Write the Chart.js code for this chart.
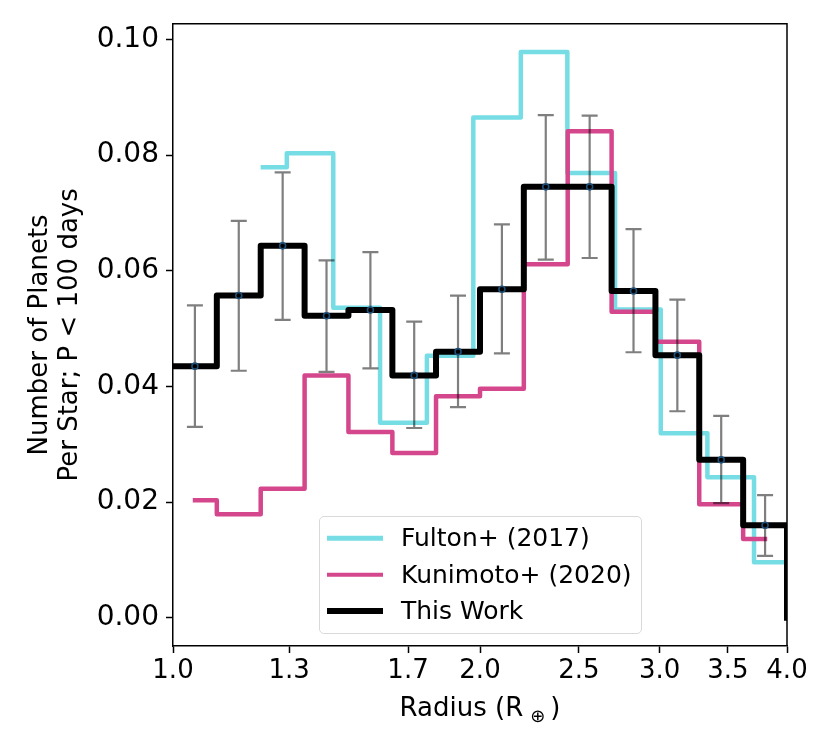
<!DOCTYPE html>
<html>
<head>
<meta charset="utf-8">
<script src="https://cdn.jsdelivr.net/npm/chart.js@4.4.1/dist/chart.umd.min.js"></script>
<style>
  body { margin: 0; background: #fff; }
  #wrap { position: relative; width: 830px; height: 755px; }
  #legend {
    position: absolute; left: 319px; top: 516px; width: 323px; height: 118px;
    box-sizing: border-box; border: 1.5px solid #d9d9d9; border-radius: 5px;
    background: rgba(255,255,255,0.8);
    font-family: 'DejaVu Sans'; font-size: 25px; color: #000;
  }
  .row { position: absolute; left: 0; height: 30px; width: 100%; }
  .sw { position: absolute; left: 7px; width: 56px; top: 50%; transform: translateY(-50%); }
  .lbl { position: absolute; left: 81px; top: 0; line-height: 30px; white-space: nowrap; }
</style>
</head>
<body>
<div id="wrap">
  <canvas id="myChart" width="830" height="755"></canvas>
  <div id="legend"></div>
</div>
<script>
// bin edges (Earth radii) used by this work and Kunimoto
var radiusEdges = [1.000, 1.104, 1.219, 1.346, 1.486, 1.641, 1.811, 2.000, 2.208, 2.438, 2.692, 2.972, 3.281, 3.623, 4.000];

// this work: occurrence per bin, plus error bar ends
var thisWorkRate    = [0.0435, 0.0557, 0.0643, 0.0522, 0.0532, 0.0419, 0.0460, 0.0568, 0.0745, 0.0745, 0.0565, 0.0454, 0.0273, 0.0160];
var thisWorkErrHigh = [0.0540, 0.0686, 0.0770, 0.0618, 0.0632, 0.0512, 0.0557, 0.0680, 0.0869, 0.0868, 0.0672, 0.0550, 0.0349, 0.0212];
var thisWorkErrLow  = [0.0330, 0.0427, 0.0515, 0.0425, 0.0431, 0.0328, 0.0364, 0.0457, 0.0619, 0.0622, 0.0459, 0.0357, 0.0198, 0.0107];

// Kunimoto+ (2020), step positions
var kunimotoEdges = [1.051, 1.104, 1.219, 1.346, 1.486, 1.641, 1.811, 2.000, 2.208, 2.438, 2.692, 2.972, 3.281, 3.623, 3.806];
var kunimotoRate  = [0.0203, 0.0179, 0.0223, 0.0419, 0.0321, 0.0285, 0.0383, 0.0396, 0.0611, 0.0841, 0.0529, 0.0477, 0.0196, 0.0136];

// Fulton+ (2017), step positions
var fultonEdges = [1.225, 1.293, 1.436, 1.596, 1.774, 1.970, 2.193, 2.436, 2.713, 3.008, 3.342, 3.713, 4.000];
var fultonRate  = [0.0779, 0.0803, 0.0536, 0.0337, 0.0453, 0.0865, 0.0978, 0.0769, 0.0533, 0.0319, 0.0243, 0.0096];

var xTicks = [1.0, 1.3, 1.7, 2.0, 2.5, 3.0, 3.5, 4.0];
var yTicks = [0.00, 0.02, 0.04, 0.06, 0.08, 0.10];

var FONT = 'DejaVu Sans';

function steps(edges, rate, dropToZero) {
    var pts = rate.map(function(r, i) { return {x: edges[i], y: r}; });
    pts.push({x: edges[edges.length - 1], y: rate[rate.length - 1]});
    if (dropToZero) pts.push({x: edges[edges.length - 1], y: 0});
    return pts;
}

// matplotlib style 5% margins on y
var allVals = [].concat(thisWorkRate, kunimotoRate, fultonRate, thisWorkErrHigh, [0]);
var yLo = Math.min.apply(null, allVals), yHi = Math.max.apply(null, allVals);
var yPad = 0.05 * (yHi - yLo);

var errorBars = {
    id: 'errorBars',
    afterDatasetsDraw: function(chart) {
        var ctx = chart.ctx, xs = chart.scales.x, ys = chart.scales.y;
        var area = chart.chartArea;
        ctx.save();
        ctx.strokeStyle = 'rgba(0,0,0,0.5)';
        ctx.lineWidth = 2.2;
        thisWorkRate.forEach(function(r, i) {
            var px = xs.getPixelForValue(Math.sqrt(radiusEdges[i] * radiusEdges[i + 1]));
            var top = ys.getPixelForValue(thisWorkErrHigh[i]);
            var bot = ys.getPixelForValue(thisWorkErrLow[i]);
            ctx.beginPath();
            ctx.moveTo(px, top); ctx.lineTo(px, bot);
            ctx.moveTo(px - 8, top); ctx.lineTo(px + 8, top);
            ctx.moveTo(px - 8, bot); ctx.lineTo(px + 8, bot);
            ctx.stroke();
        });
        ctx.strokeStyle = '#1d4f78';
        ctx.lineWidth = 1.6;
        thisWorkRate.forEach(function(r, i) {
            var px = xs.getPixelForValue(Math.sqrt(radiusEdges[i] * radiusEdges[i + 1]));
            ctx.beginPath();
            ctx.arc(px, ys.getPixelForValue(r), 3, 0, Math.PI * 2);
            ctx.stroke();
        });
        // top and right spines
        ctx.strokeStyle = '#000';
        ctx.lineWidth = 1.5;
        ctx.beginPath();
        ctx.moveTo(area.left, area.top); ctx.lineTo(area.right, area.top); ctx.lineTo(area.right, area.bottom);
        ctx.stroke();
        ctx.restore();
    },
    afterDraw: function(chart) {
        // x axis title with subscript earth symbol
        var ctx = chart.ctx, area = chart.chartArea;
        var big = '26px "' + FONT + '"', small = '18px "' + FONT + '"';
        ctx.save();
        ctx.fillStyle = '#000';
        ctx.textBaseline = 'alphabetic';
        ctx.textAlign = 'left';
        ctx.font = big;
        var w1 = ctx.measureText('Radius (R').width, w3 = ctx.measureText(')').width;
        ctx.font = small;
        var w2 = ctx.measureText('\u2295').width;
        var g1 = 7, g2 = 5;
        var x0 = (area.left + area.right) / 2 - (w1 + g1 + w2 + g2 + w3) / 2;
        var base = 716;
        ctx.font = big;
        ctx.fillText('Radius (R', x0, base);
        ctx.font = small;
        ctx.fillText('\u2295', x0 + w1 + g1, base + 6);
        ctx.font = big;
        ctx.fillText(')', x0 + w1 + g1 + w2 + g2, base);
        ctx.restore();
    }
};

var ctx = document.getElementById('myChart').getContext('2d');
var chart = new Chart(ctx, {
    type: 'line',
    data: {
        datasets: [{
            label: 'Fulton+ (2017)',
            data: steps(fultonEdges, fultonRate, false),
            borderColor: '#76dde5',
            borderWidth: 4.5,
            order: 3
        }, {
            label: 'Kunimoto+ (2020)',
            data: steps(kunimotoEdges, kunimotoRate, false),
            borderColor: '#d5478c',
            borderWidth: 4.5,
            order: 2
        }, {
            label: 'This Work',
            data: steps(radiusEdges, thisWorkRate, true),
            borderColor: '#000000',
            borderWidth: 6,
            order: 1
        }]
    },
    options: {
        responsive: false,
        animation: false,
        devicePixelRatio: 1,
        layout: { padding: { left: 0, top: 22, right: 43, bottom: 0 } },
        elements: {
            point: { radius: 0 },
            // 'before' in chart.js = hold the previous value until the next point
            line: { stepped: 'before', fill: false, tension: 0, borderJoinStyle: 'round', borderCapStyle: 'square' }
        },
        plugins: { legend: { display: false }, tooltip: { enabled: false } },
        scales: {
            x: {
                type: 'logarithmic',
                min: 1, max: 4,
                afterBuildTicks: function(s) { s.ticks = xTicks.map(function(v) { return {value: v}; }); },
                afterFit: function(s) { s.height = 109; },
                ticks: {
                    callback: function(v) { return Number(v).toFixed(1); },
                    autoSkip: false, maxRotation: 0, padding: 3,
                    color: '#000', font: { family: FONT, size: 26 }
                },
                grid: { drawOnChartArea: false, drawTicks: true, tickLength: 7, tickWidth: 1.5, tickColor: '#000' },
                border: { color: '#000', width: 1.5 }
            },
            y: {
                type: 'linear',
                min: yLo - yPad, max: yHi + yPad,
                afterBuildTicks: function(s) { s.ticks = yTicks.map(function(v) { return {value: v}; }); },
                afterFit: function(s) { s.width = 173; },
                ticks: {
                    callback: function(v) { return Number(v).toFixed(2); },
                    padding: 7,
                    color: '#000', font: { family: FONT, size: 28 }
                },
                grid: { drawOnChartArea: false, drawTicks: true, tickLength: 7, tickWidth: 1.5, tickColor: '#000' },
                border: { color: '#000', width: 1.5 },
                title: {
                    display: true,
                    text: ['Number of Planets', 'Per Star; P < 100 days'],
                    color: '#000',
                    font: { family: FONT, size: 26, lineHeight: 1.15 },
                    padding: { top: 25, bottom: 0 }
                }
            }
        }
    },
    plugins: [errorBars]
});

// legend box drawn in html from the datasets
var legendBox = document.getElementById('legend');
chart.data.datasets.forEach(function(ds, i) {
    var row = document.createElement('div');
    row.className = 'row';
    row.style.top = (6 + i * 36.7) + 'px';
    var sw = document.createElement('div');
    sw.className = 'sw';
    sw.style.height = ds.borderWidth + 'px';
    sw.style.background = ds.borderColor;
    var lbl = document.createElement('div');
    lbl.className = 'lbl';
    lbl.textContent = ds.label;
    row.appendChild(sw);
    row.appendChild(lbl);
    legendBox.appendChild(row);
});
</script>
</body>
</html>
